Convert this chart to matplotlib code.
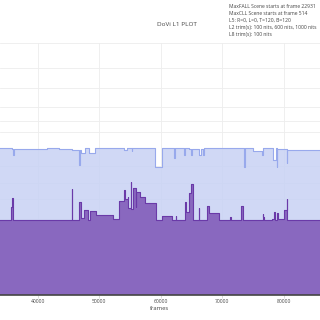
import matplotlib
matplotlib.use("Agg")
import matplotlib.pyplot as plt
import numpy as np

plt.rcParams["font.family"] = ["Open Sans", "DejaVu Sans"]

# max PQ (light blue) step series: segment start frame, PQ value
max_frames = [33000, 35800, 35950, 36150, 41500, 43500, 45500, 46700, 46800, 47040,
              47700, 48300, 49300, 54100, 54450, 55300, 55400, 59100, 60250, 62100,
              62400, 63850, 64000, 64550, 65000, 65150, 66300, 66600, 66900, 67100,
              73600, 73720, 75000, 76500, 76600, 78200, 78700, 78850, 78950, 80500,
              80600, 86500]
max_pq = [0.5845, 0.5806, 0.556, 0.5806, 0.5845, 0.5806, 0.5766, 0.516, 0.5766, 0.5647,
          0.5845, 0.5647, 0.5845, 0.575, 0.5845, 0.573, 0.5845, 0.5067, 0.5845, 0.545,
          0.5845, 0.556, 0.5845, 0.578, 0.556, 0.578, 0.556, 0.5806, 0.556, 0.5845,
          0.5067, 0.5845, 0.5726, 0.556, 0.5845, 0.536, 0.5845, 0.5067, 0.579, 0.524,
          0.5754, 0.5754]

# average PQ (purple) step series
avg_frames = [33000, 35700, 35850, 35950, 45500, 45600, 46700, 47000, 47520, 48200,
              48500, 49450, 51900, 52300, 52550, 53200, 54000, 54150, 54650, 54750,
              55150, 55250, 55450, 55950, 56050, 56600, 57400, 59200, 60200, 61850,
              62450, 62550, 63950, 64050, 64550, 64900, 65200, 66200, 66300, 67500,
              67850, 69450, 71250, 71350, 73050, 73300, 76600, 76700, 76800, 78100,
              78400, 78550, 78900, 79000, 80050, 80500, 80600, 86500]
avg_pq = [0.2976, 0.350, 0.385, 0.2976, 0.4206, 0.2976, 0.369, 0.3067, 0.337, 0.2976,
          0.333, 0.316, 0.316, 0.300, 0.302, 0.373, 0.4167, 0.381, 0.39, 0.345,
          0.4496, 0.34, 0.4234, 0.35, 0.409, 0.39, 0.364, 0.2976, 0.3135, 0.2976,
          0.3135, 0.2976, 0.369, 0.329, 0.406, 0.439, 0.2976, 0.345, 0.2976, 0.353,
          0.324, 0.2976, 0.311, 0.2976, 0.353, 0.2976, 0.321, 0.311, 0.2976, 0.300,
          0.329, 0.2976, 0.324, 0.300, 0.337, 0.381, 0.2976, 0.2976]

x_ticks = [40000, 50000, 60000, 70000, 80000]
y_grid = [0, 0.063, 0.123, 0.186, 0.241, 0.300, 0.379, 0.443, 0.510,
          0.648, 0.692, 0.747, 0.822, 0.901, 1.0]

info_lines = [
    "MaxFALL Scene starts at frame 22931",
    "MaxCLL Scene starts at frame 514",
    "L5: R=0, L=0, T=120, B=120",
    "L2 trim(s): 100 nits, 600 nits, 1000 nits",
    "L8 trim(s): 100 nits",
]

fig = plt.figure(figsize=(3.2, 3.2), dpi=100)
ax = fig.add_axes([0, 25 / 320, 1, 252 / 320])

ax.fill_between(max_frames, max_pq, step="post", color="#c8d2f4", alpha=0.85,
                linewidth=0, zorder=2)
ax.step(max_frames, max_pq, where="post", color="#98a9ec", linewidth=0.8, zorder=3)
ax.fill_between(avg_frames, avg_pq, step="post", color="#7d55b6", alpha=0.85,
                linewidth=0, zorder=4)
ax.step(avg_frames, avg_pq, where="post", color="#6a3aa8", linewidth=0.8, zorder=5)

ax.set_xlim(33870, 85900)
ax.set_ylim(0, 1.0)
ax.set_xticks(x_ticks)
ax.set_xticklabels([str(t) for t in x_ticks], fontsize=3.6, color="#444444")
ax.set_yticks(y_grid)
ax.set_yticklabels([])
ax.tick_params(axis="y", length=0)
ax.tick_params(axis="x", length=2, width=0.5, color="#cccccc", pad=1)
ax.grid(True, color="#ededed", linewidth=0.6, zorder=1)
ax.set_axisbelow(True)
for side in ["top", "left", "right"]:
    ax.spines[side].set_visible(False)
ax.spines["bottom"].set_color("#444444")
ax.spines["bottom"].set_linewidth(1.2)
ax.spines["bottom"].set_zorder(6)
ax.set_xlabel("frames", fontsize=4.2, color="#444444", labelpad=1.5)

fig.text(177 / 320, 1 - 24 / 320, "DoVi L1 PLOT", fontsize=4.6, color="#444444",
         ha="center", va="center")
for i, line in enumerate(info_lines):
    fig.text(229 / 320, 1 - (6 + i * 7.2) / 320, line, fontsize=3.65,
             color="#444444", ha="left", va="center")

fig.savefig("out.png", dpi=100)
